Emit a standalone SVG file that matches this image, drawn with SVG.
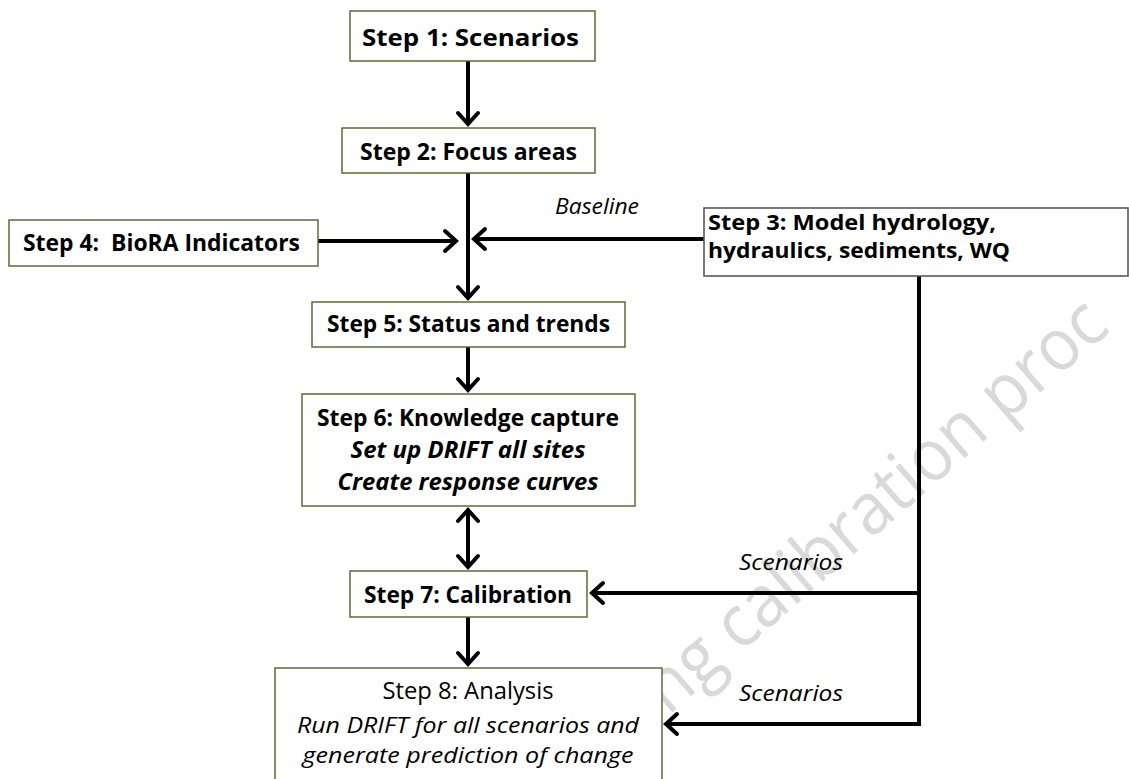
<svg xmlns="http://www.w3.org/2000/svg" width="1129" height="779" viewBox="0 0 1129 779">
  <style>
    .box { fill: #ffffff; stroke: #4f6228; stroke-width: 1.4; }
    .box3 { fill: #ffffff; stroke: #595959; stroke-width: 1.6; }
    .t { font-family: "Open Sans", "Noto Sans", "Liberation Sans", sans-serif; fill: #000000; }
    .b { font-weight: 700; font-size: 23px; }
    .b3 { font-weight: 700; font-size: 22px; }
    .bi { font-weight: 700; font-style: italic; font-size: 23px; }
    .r { font-weight: 400; font-size: 23px; }
    .i { font-weight: 400; font-style: italic; font-size: 22px; }
    .mid { text-anchor: middle; }
    .wire { fill: none; stroke: #000000; stroke-width: 4; }
    .wm { font-family: "Open Sans", "Noto Sans", sans-serif; font-size: 72px; fill: #d9d9d9; }
  </style>
  <defs>
    <marker id="chev" viewBox="-16 -14 20 28" refX="0" refY="0" markerWidth="20" markerHeight="28" markerUnits="userSpaceOnUse" orient="auto-start-reverse">
      <path d="M-11,-10 L0,0 L-11,10" fill="none" stroke="#000000" stroke-width="4" stroke-linecap="round" stroke-linejoin="miter"/>
    </marker>
  </defs>

  <rect width="1129" height="779" fill="#ffffff"/>

  <!-- faint background watermark -->
  <text class="wm" transform="translate(668,716) rotate(-41)" textLength="588" lengthAdjust="spacingAndGlyphs">ng calibration proc</text>

  <g id="connectors">
    <path class="wire" d="M468,61 V124" marker-end="url(#chev)"/>
    <path class="wire" d="M468,173 V298" marker-end="url(#chev)"/>
    <path class="wire" d="M318,241 H456" marker-end="url(#chev)"/>
    <path class="wire" d="M704,239 H474" marker-end="url(#chev)"/>
    <path class="wire" d="M468,347 V390" marker-end="url(#chev)"/>
    <path class="wire" d="M468,510 V567" marker-start="url(#chev)" marker-end="url(#chev)"/>
    <path class="wire" d="M468,617 V664" marker-end="url(#chev)"/>
    <path class="wire" d="M919,276 V724 H666" marker-end="url(#chev)"/>
    <path class="wire" d="M919,593 H592" marker-end="url(#chev)"/>
    <text class="t i" x="555" y="214" textLength="84" lengthAdjust="spacingAndGlyphs">Baseline</text>
    <text class="t i" x="739" y="570" textLength="104" lengthAdjust="spacingAndGlyphs">Scenarios</text>
    <text class="t i" x="739" y="701" textLength="104" lengthAdjust="spacingAndGlyphs">Scenarios</text>
  </g>

  <g id="step1">
    <rect class="box" x="350" y="11" width="245" height="50"/>
    <text class="t b mid" x="470.5" y="46" textLength="217" lengthAdjust="spacingAndGlyphs">Step 1: Scenarios</text>
  </g>

  <g id="step2">
    <rect class="box" x="342" y="128" width="253" height="45"/>
    <text class="t b mid" x="468.5" y="160" textLength="217" lengthAdjust="spacingAndGlyphs">Step 2: Focus areas</text>
  </g>

  <g id="step3">
    <rect class="box3" x="704" y="208" width="424" height="68"/>
    <text class="t b3" x="708" y="229.5" textLength="288" lengthAdjust="spacingAndGlyphs">Step 3: Model hydrology,</text>
    <text class="t b3" x="708" y="258" textLength="302" lengthAdjust="spacingAndGlyphs">hydraulics, sediments, WQ</text>
  </g>

  <g id="step4">
    <rect class="box" x="9" y="220" width="309" height="46"/>
    <text class="t b" x="23" y="251" textLength="277" lengthAdjust="spacingAndGlyphs" style="white-space:pre">Step 4:  BioRA Indicators</text>
  </g>

  <g id="step5">
    <rect class="box" x="312" y="302" width="313" height="45"/>
    <text class="t b mid" x="468.5" y="332" textLength="283" lengthAdjust="spacingAndGlyphs">Step 5: Status and trends</text>
  </g>

  <g id="step6">
    <rect class="box" x="302" y="394" width="333" height="112"/>
    <text class="t b mid" x="468" y="425.5" textLength="302" lengthAdjust="spacingAndGlyphs">Step 6: Knowledge capture</text>
    <text class="t bi mid" x="468" y="458" textLength="235" lengthAdjust="spacingAndGlyphs">Set up DRIFT all sites</text>
    <text class="t bi mid" x="468" y="490" textLength="261" lengthAdjust="spacingAndGlyphs">Create response curves</text>
  </g>

  <g id="step7">
    <rect class="box" x="350" y="571" width="237" height="46"/>
    <text class="t b mid" x="468" y="602.5" textLength="208" lengthAdjust="spacingAndGlyphs">Step 7: Calibration</text>
  </g>

  <g id="step8">
    <rect class="box" x="275" y="668" width="387" height="130"/>
    <text class="t r mid" x="468" y="699" textLength="171" lengthAdjust="spacingAndGlyphs">Step 8: Analysis</text>
    <text class="t i mid" x="468" y="733" textLength="342" lengthAdjust="spacingAndGlyphs">Run DRIFT for all scenarios and</text>
    <text class="t i mid" x="468" y="763" textLength="331" lengthAdjust="spacingAndGlyphs">generate prediction of change</text>
  </g>
</svg>
